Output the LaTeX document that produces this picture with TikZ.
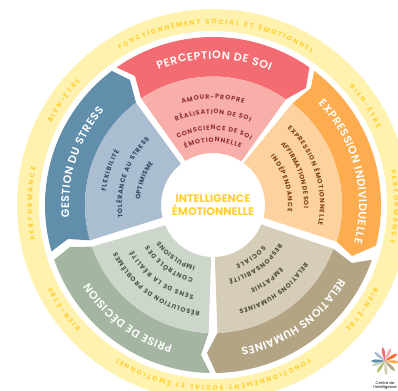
\documentclass[tikz,border=0pt]{standalone}
\usepackage{fontspec}
\setmainfont{Poppins}[BoldFont={Poppins Bold}]
\usetikzlibrary{decorations.text}
\definecolor{ringc}{HTML}{FFF2AE}
\definecolor{ytxt}{HTML}{FFCF33}
\definecolor{redo}{HTML}{F36C72}\definecolor{redi}{HTML}{F9AFA9}\definecolor{redt}{HTML}{93303F}
\definecolor{oro}{HTML}{FDAD4F}\definecolor{ori}{HTML}{FDD29E}\definecolor{ort}{HTML}{7D4512}
\definecolor{blo}{HTML}{618FAB}\definecolor{bli}{HTML}{ABBDD1}\definecolor{blt}{HTML}{33465E}
\definecolor{gro}{HTML}{A4B6A1}\definecolor{gri}{HTML}{CCD6CA}\definecolor{grt}{HTML}{4A554C}
\definecolor{bro}{HTML}{B3A484}\definecolor{bri}{HTML}{D5CDB8}\definecolor{brt}{HTML}{524A3B}
\newcommand{\arctxt}[6]{% radius, start, end, color, font, text
  \path[decorate,decoration={text along path,text align=fit to path,
    text={|\color{#4}#5|#6}}]
    (#2:#1) arc[start angle=#2,end angle=#3,radius=#1];}
\begin{document}
\begin{tikzpicture}[x=1pt,y=1pt]
\useasboundingbox (0,0) rectangle (398,390);
\clip (0,0) rectangle (398,390);
\fill[white] (0,0) rectangle (398,390);
\begin{scope}[shift={(213,185)}]
% ring
\fill[ringc,even odd rule] (0,0) circle[radius=196] (0,0) circle[radius=174];
% wedges
\fill[redo] (125:168) arc[start angle=125,end angle=55,radius=168] -- (93,117) -- (55.4:128.5) arc[start angle=55.4,end angle=124,radius=128.5] -- (-78,129) -- cycle;
\fill[redi] (124:128.5) arc[start angle=124,end angle=55.4,radius=128.5] -- (57:52) arc[start angle=57,end angle=122,radius=52] -- cycle;
\fill[oro] (53:168) arc[start angle=53,end angle=-14,radius=168] -- (139,-51) -- (-16.5:129) arc[start angle=-16.5,end angle=52,radius=129] -- (98,117) -- cycle;
\fill[ori] (52:129) arc[start angle=52,end angle=-16.5,radius=129] -- (-14:52) arc[start angle=-14,end angle=54,radius=52] -- cycle;
\fill[bro] (-19:168) arc[start angle=-19,end angle=-89,radius=168] -- (-6,-148) -- (-88:128) arc[start angle=-88,end angle=-20,radius=128] -- (139,-58) -- cycle;
\fill[bri] (-20:128) arc[start angle=-20,end angle=-88,radius=128] -- (-88:52) arc[start angle=-88,end angle=-22,radius=52] -- cycle;
\fill[gro] (-91:168) arc[start angle=-91,end angle=-161,radius=168] -- (-143,-42) -- (-161:128) arc[start angle=-161,end angle=-92,radius=128] -- (-12,-150) -- cycle;
\fill[gri] (-92:128) arc[start angle=-92,end angle=-161,radius=128] -- (-157:52) arc[start angle=-157,end angle=-92,radius=52] -- cycle;
\fill[blo] (-164:168) arc[start angle=-164,end angle=-233,radius=168] -- (-83,125) -- (127:128) arc[start angle=127,end angle=196,radius=128] -- (-145,-34) -- cycle;
\fill[bli] (127:128) arc[start angle=127,end angle=196,radius=128] -- (194:52) arc[start angle=194,end angle=128,radius=52] -- cycle;
% ring text
\def\yf{\fontsize{6.5}{7}\selectfont\bfseries}
\arctxt{181}{121}{57}{ytxt}{\yf}{FONCTIONNEMENT SOCIAL ET ÉMOTIONNEL}
\arctxt{181}{-58}{-122}{ytxt}{\yf}{FONCTIONNEMENT SOCIAL ET ÉMOTIONNEL}
\arctxt{181}{153}{137}{ytxt}{\yf}{BIEN-ÊTRE}
\arctxt{181}{41}{25}{ytxt}{\yf}{BIEN-ÊTRE}
\arctxt{181}{-27}{-43}{ytxt}{\yf}{BIEN-ÊTRE}
\arctxt{181}{-137}{-153}{ytxt}{\yf}{BIEN-ÊTRE}
\arctxt{181}{191}{168}{ytxt}{\yf}{PERFORMANCE}
\arctxt{181}{11}{-12}{ytxt}{\yf}{PERFORMANCE}
% titles
\def\tf{\fontsize{11}{13}\fontspec{Poppins SemiBold}}
\arctxt{146}{112}{67}{white}{\tf}{PERCEPTION DE SOI}
\arctxt{146}{44}{-15}{white}{\tf}{EXPRESSION INDIVIDUELLE}
\arctxt{144}{185}{139}{white}{\tf}{GESTION DU STRESS}
\arctxt{146}{-106}{-148}{white}{\tf}{PRISE DE DÉCISION}
\arctxt{146}{-30}{-79}{white}{\tf}{RELATIONS HUMAINES}
% inner
\def\inf{\fontsize{6.4}{7}\selectfont\bfseries}
\arctxt{106}{107}{73}{redt}{\inf}{AMOUR-PROPRE}
\arctxt{91}{114}{66}{redt}{\inf}{RÉALISATION DE SOI}
\arctxt{75}{118}{60}{redt}{\inf}{CONSCIENCE DE SOI}
\arctxt{63}{116}{64}{redt}{\inf}{ÉMOTIONNELLE}
\arctxt{107}{46}{-11}{ort}{\inf}{EXPRESSION ÉMOTIONNELLE}
\arctxt{91}{42}{-2}{ort}{\inf}{AFFIRMATION DE SOI}
\arctxt{75}{40}{-5}{ort}{\inf}{INDÉPENDANCE}
\arctxt{108}{173}{150}{blt}{\inf}{FLEXIBILITÉ}
\arctxt{91}{188}{134}{blt}{\inf}{TOLÉRANCE AU STRESS}
\arctxt{73}{176}{145}{blt}{\inf}{OPTIMISME}
\arctxt{107}{-97}{-154}{grt}{\inf}{RÉSOLUTION DE PROBLÈMES}
\arctxt{92}{-102}{-150}{grt}{\inf}{SENS DE LA RÉALITÉ}
\arctxt{76}{-105}{-148}{grt}{\inf}{CONTRÔLE DES}
\arctxt{64}{-106}{-146}{grt}{\inf}{IMPULSIONS}
\arctxt{108}{-32}{-76}{brt}{\inf}{RELATIONS HUMAINES}
\arctxt{92}{-43}{-66}{brt}{\inf}{EMPATHIE}
\arctxt{76}{-30}{-78}{brt}{\inf}{RESPONSABILITÉ}
\arctxt{64}{-39}{-69}{brt}{\inf}{SOCIALE}
% centre
\node[text=ytxt,align=center,font=\fontsize{11}{13.5}\selectfont\bfseries] (ctr) at (0,0) {INTELLIGENCE\\ÉMOTIONNELLE};
\end{scope}
% logo
\begin{scope}[shift={(385,29)}]
\foreach \a/\c in {100/F06B72,65/F9AFA9,30/FF6A2B,-5/FDAD4F,-45/B3A484,-85/D5CDB8,-125/B5C46C,-160/CCD6CA,180/618FAB,140/ABBDD1}{
  \definecolor{petal}{HTML}{\c}
  \fill[petal] (0,0) .. controls (\a+15:8) and (\a+10:12) .. (\a:14) .. controls (\a-10:12) and (\a-15:8) .. (0,0);}
\end{scope}
\node[font=\fontsize{3.8}{4.4}\selectfont,align=center,text=black] (lg) at (385,4.5) {Centre de\\l'Intelligence};
\end{tikzpicture}
\end{document}
